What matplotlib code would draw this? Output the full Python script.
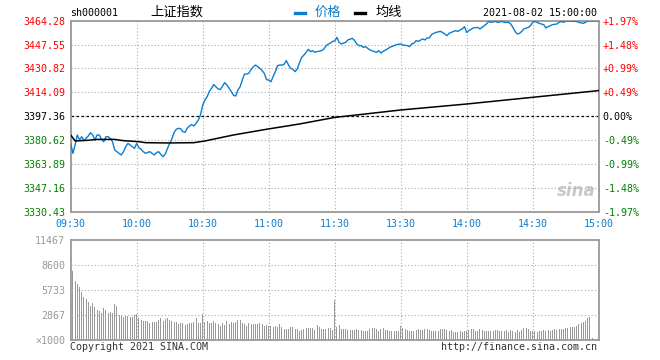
import matplotlib
matplotlib.use('Agg')
import matplotlib.pyplot as plt
from matplotlib.lines import Line2D

# 分时价格: 分钟序号 (0 = 09:30, 120 = 11:30/13:00, 240 = 15:00)
price_min = [0, 1, 2, 3, 4, 5, 6, 7, 8, 9, 10, 11, 12, 13, 14, 15, 16, 17, 18, 19,
             20, 21, 22, 23, 24, 25, 26, 27, 28, 29, 30, 31, 32, 33, 34, 35, 36, 37, 38, 39,
             40, 41, 42, 43, 44, 45, 46, 47, 48, 49, 50, 51, 52, 53, 54, 55, 56, 57, 58, 59,
             60, 61, 62, 63, 64, 65, 66, 67, 68, 69, 70, 71, 72, 73, 74, 75, 76, 77, 78, 79,
             80, 81, 82, 83, 84, 85, 86, 87, 88, 89, 90, 91, 92, 93, 94, 95, 96, 97, 98, 99,
             100, 101, 102, 103, 104, 105, 106, 107, 108, 109, 110, 111, 112, 114, 115, 116, 117, 118, 119,
             120, 121, 122, 123, 125, 126, 128, 129, 130, 131, 132, 133, 134, 135, 136, 138, 139,
             140, 141, 142, 144, 145, 147, 148, 150, 151, 153, 154, 155, 156, 157, 158,
             160, 161, 162, 163, 164, 165, 166, 168, 169, 170, 171, 172, 173, 174, 175, 176, 177, 178, 179,
             180, 181, 183, 185, 186, 187, 188, 189, 190, 191, 193, 194, 196, 197, 199,
             200, 201, 202, 203, 204, 205, 206, 208, 209, 210, 211, 212, 213, 215, 216, 217, 218, 219,
             221, 222, 223, 224, 225, 227, 229, 230, 231, 233, 234, 235, 237, 240]
price_val = [3378.3, 3371.3, 3377.2, 3384.2, 3380.7, 3383.0, 3380.2, 3381.8, 3383.5, 3385.8,
             3384.2, 3380.7, 3384.2, 3384.2, 3381.1, 3379.5, 3383.0, 3383.0, 3381.8, 3379.5,
             3373.7, 3372.5, 3371.3, 3370.2, 3372.5, 3376.0, 3378.3, 3377.2, 3376.0, 3374.8,
             3378.3, 3375.3, 3374.1, 3372.5, 3371.3, 3372.0, 3372.5, 3371.3, 3370.2, 3371.8,
             3372.5, 3370.5, 3369.0, 3370.9, 3374.8, 3378.3, 3381.5, 3386.0, 3388.2, 3388.9,
             3388.5, 3386.5, 3386.0, 3389.0, 3390.5, 3391.5, 3390.5, 3392.4, 3394.7, 3398.2,
             3405.2, 3408.7, 3411.0, 3414.6, 3416.9, 3419.5, 3418.0, 3416.5, 3416.0, 3418.5,
             3420.9, 3419.2, 3416.9, 3414.6, 3412.0, 3411.5, 3415.7, 3418.0, 3422.7, 3426.9,
             3426.9, 3427.5, 3430.2, 3432.0, 3433.2, 3432.1, 3430.9, 3429.3, 3427.4, 3423.0,
             3422.7, 3421.5, 3425.1, 3428.6, 3432.8, 3433.2, 3433.2, 3433.7, 3436.3, 3433.2,
             3430.9, 3430.2, 3428.6, 3430.5, 3434.9, 3438.6, 3440.2, 3442.1, 3444.2, 3442.6,
             3443.3, 3442.1, 3442.6, 3443.3, 3444.2, 3446.5, 3447.9, 3448.5, 3449.8,
             3450.0, 3452.6, 3449.1, 3448.0, 3449.1, 3450.8, 3451.9, 3450.5, 3448.0, 3446.8,
             3446.8, 3445.6, 3446.1, 3444.9, 3443.8, 3442.6, 3442.1,
             3443.3, 3441.6, 3442.8, 3444.5, 3445.6, 3446.8, 3447.5, 3448.0, 3447.3, 3446.8,
             3446.1, 3448.0, 3448.5, 3450.3, 3449.8,
             3451.5, 3450.8, 3452.2, 3452.2, 3454.5, 3455.4, 3456.1, 3456.8, 3456.1, 3455.0,
             3453.8, 3455.4, 3456.1, 3456.8, 3457.3, 3456.8, 3457.8, 3458.5, 3460.1,
             3456.0, 3457.3, 3459.2, 3459.6, 3458.5, 3459.6, 3460.8, 3462.0, 3463.8, 3463.1,
             3463.8, 3463.1, 3463.8, 3463.1, 3463.1,
             3462.0, 3459.6, 3456.8, 3455.0, 3455.4, 3456.8, 3458.5, 3459.6, 3460.8, 3463.1,
             3463.8, 3463.1, 3462.4, 3461.5, 3459.2, 3460.1, 3460.8, 3461.5,
             3462.0, 3463.1, 3463.8, 3463.1, 3464.0, 3464.0, 3463.8, 3463.8, 3463.1, 3462.4,
             3463.1, 3464.2, 3464.2, 3464.2]

# 均价线
avg_min = [0, 2, 8, 12, 20, 24, 31, 34, 44, 56, 61, 74, 89, 104, 120, 150, 180, 210, 240]
avg_val = [3384.2, 3380.0, 3380.5, 3381.1, 3381.1, 3380.2, 3379.5, 3378.8, 3378.6, 3378.8,
           3380.0, 3384.2, 3388.2, 3391.9, 3396.5, 3401.7, 3405.9, 3410.6, 3415.3]

# 成交量 (手/1000), 上午 1..120 分钟, 下午 121.. 分钟
vol_morning = [7970, 6785, 6440, 6095, 5560, 4900, 4680, 4370, 3910, 4220,
               3750, 3450, 3370, 3100, 3720, 3450, 3070, 3180, 3070, 4140,
               3910, 2880, 2720, 2640, 2720, 2760, 2640, 2640, 2880, 2950,
               2490, 2300, 2190, 2190, 2190, 1920, 2110, 2030, 2110, 2300,
               2570, 2190, 2415, 2570, 2300, 2190, 2110, 2030, 1800, 1920,
               1920, 1725, 1800, 1920, 1920, 2030, 2490, 1920, 1920, 3000,
               2110, 2190, 1920, 1920, 2190, 1920, 1800, 1650, 1920, 1725,
               2190, 1800, 2110, 1920, 2110, 2300, 2300, 1920, 1800, 1650,
               1920, 1800, 1800, 1800, 1800, 1920, 1800, 1650, 1725, 1650,
               1650, 1530, 1650, 1530, 1800, 1530, 1265, 1265, 1265, 1530,
               1530, 1265, 1265, 1035, 1190, 1265, 1420, 1420, 1420, 1420,
               1150, 1725, 1500, 1265, 1265, 1265, 1420, 1420, 1150, 4600]
vol_afternoon = [1533, 1725, 1265, 1265, 1265, 1150, 1150, 1150, 1150, 1227,
                 1150, 1150, 1035, 1035, 1073, 1227, 1342, 1342, 1227, 1035,
                 1227, 1418, 1150, 1150, 1035, 1035, 1035, 1035, 1035, 1648,
                 1342, 1227, 1150, 1035, 1035, 1035, 1150, 1265, 1150, 1150,
                 1227, 1265, 1150, 1073, 1035, 1073, 1073, 1265, 1265, 1265,
                 1150, 1073, 1150, 958, 958, 958, 1035, 958, 1073, 1073,
                 1150, 1227, 1265, 1073, 1073, 1227, 1150, 1073, 1073, 1035,
                 1073, 1073, 1150, 1150, 1073, 1073, 1035, 1150, 958, 1150,
                 1073, 958, 1150, 958, 1150, 1342, 1342, 1227, 1035, 1035,
                 1035, 958, 1035, 1073, 1150, 1073, 1150, 1035, 1150, 1227,
                 1150, 1227, 1265, 1265, 1342, 1342, 1457, 1533, 1533, 1648,
                 1802, 1917, 2108, 2223, 2492, 2607, 192]

pre_close = 3397.36
price_ticks = [3330.43, 3347.16, 3363.89, 3380.62, 3397.36, 3414.09, 3430.82, 3447.55, 3464.28]
pct_labels = ['-1.97%', '-1.48%', '-0.99%', '-0.49%', '0.00%', '+0.49%', '+0.99%', '+1.48%', '+1.97%']
time_ticks = [0, 30, 60, 90, 120, 150, 180, 210, 240]
time_labels = ['09:30', '10:00', '10:30', '11:00', '11:30', '13:30', '14:00', '14:30', '15:00']
vol_ticks = [0, 2867, 5733, 8600, 11467]
vol_labels = ['×1000', '2867', '5733', '8600', '11467']

BLUE = '#0b7dd0'
RED = '#ff0000'
GREEN = '#008000'
MONO = 'DejaVu Sans Mono'
CJK = ['Noto Sans CJK SC', 'DejaVu Sans']
FS = 7.2

W, H = 660, 360


def fx(px):
    return px / W


def fy(py):
    return 1 - py / H


def level_color(v):
    if abs(v - pre_close) < 0.01:
        return 'black'
    return RED if v > pre_close else GREEN


def style_frame(a):
    for s in a.spines.values():
        s.set_color('#999999')
        s.set_linewidth(1.3)


fig = plt.figure(figsize=(6.6, 3.6), dpi=100)

# 价格图
ax = fig.add_axes([fx(70.7), fy(211.7), fx(528), (211.7 - 20.7) / H])
ax.plot(price_min, price_val, color=BLUE, lw=1.0, zorder=3)
ax.plot(avg_min, avg_val, color='black', lw=1.1, zorder=3)
ax.axhline(pre_close, color='black', lw=0.9, ls=(0, (2, 2)), zorder=2)
ax.set_xlim(0, 240)
ax.set_ylim(price_ticks[0], price_ticks[-1])
ax.set_xticks(time_ticks)
ax.set_xticklabels(time_labels, fontsize=FS, family=MONO, color=BLUE)
ax.set_yticks(price_ticks)
ax.set_yticklabels(['%.2f' % v for v in price_ticks], fontsize=FS, family=MONO)
for lab, v in zip(ax.get_yticklabels(), price_ticks):
    lab.set_color(level_color(v))
ax.tick_params(length=0, pad=4)
ax.tick_params(axis='x', pad=5)
ax.grid(True, color='#aaaaaa', lw=0.8, ls=(0, (1, 2)))
style_frame(ax)

axr = ax.twinx()
axr.set_ylim(price_ticks[0], price_ticks[-1])
axr.set_yticks(price_ticks)
axr.set_yticklabels(pct_labels, fontsize=FS, family=MONO)
for lab, v in zip(axr.get_yticklabels(), price_ticks):
    lab.set_color(level_color(v))
axr.tick_params(length=0, pad=3)
for s in axr.spines.values():
    s.set_visible(False)

# 水印
ax.text(0.995, 0.06, 'sina', transform=ax.transAxes, ha='right', va='bottom',
        fontsize=12, fontweight='bold', style='italic', color='#c8c8c8', zorder=1)

# 成交量图
axv = fig.add_axes([fx(70.7), fy(340), fx(528), (340 - 240.3) / H])
vol = vol_morning + vol_afternoon
vol_x = list(range(1, len(vol) + 1))
axv.bar(vol_x, vol, width=0.5, color='#999999', lw=0, antialiased=False)
axv.set_xlim(0, 240)
axv.set_ylim(0, vol_ticks[-1])
axv.set_xticks(time_ticks)
axv.set_xticklabels([])
axv.set_yticks(vol_ticks)
axv.set_yticklabels(vol_labels, fontsize=FS, family=MONO, color='#999999')
axv.tick_params(length=0, pad=4)
axv.grid(True, color='#aaaaaa', lw=0.8, ls=(0, (1, 2)))
axv.set_axisbelow(False)
style_frame(axv)

# 顶部文字与图例
fig.text(fx(70), fy(13), 'sh000001', ha='left', va='center', fontsize=FS, family=MONO)
fig.text(fx(177), fy(12.5), '上证指数', ha='center', va='center', fontsize=9.5, family=CJK)
fig.add_artist(Line2D([fx(295), fx(305)], [fy(12.5), fy(12.5)], color=BLUE, lw=2.4,
                      transform=fig.transFigure))
fig.text(fx(315), fy(12.5), '价格', ha='left', va='center', fontsize=9.5, family=CJK, color=BLUE)
fig.add_artist(Line2D([fx(355), fx(365)], [fy(12.5), fy(12.5)], color='black', lw=2.4,
                      transform=fig.transFigure))
fig.text(fx(376), fy(12.5), '均线', ha='left', va='center', fontsize=9.5, family=CJK)
fig.text(fx(597), fy(13), '2021-08-02 15:00:00', ha='right', va='center', fontsize=FS, family=MONO)

# 底部文字
fig.text(fx(70), fy(347), 'Copyright 2021 SINA.COM', ha='left', va='center',
         fontsize=FS, family=MONO, color='#333333')
fig.text(fx(597), fy(347), 'http://finance.sina.com.cn', ha='right', va='center',
         fontsize=FS, family=MONO, color='#333333')

fig.savefig('out.png', dpi=100)
